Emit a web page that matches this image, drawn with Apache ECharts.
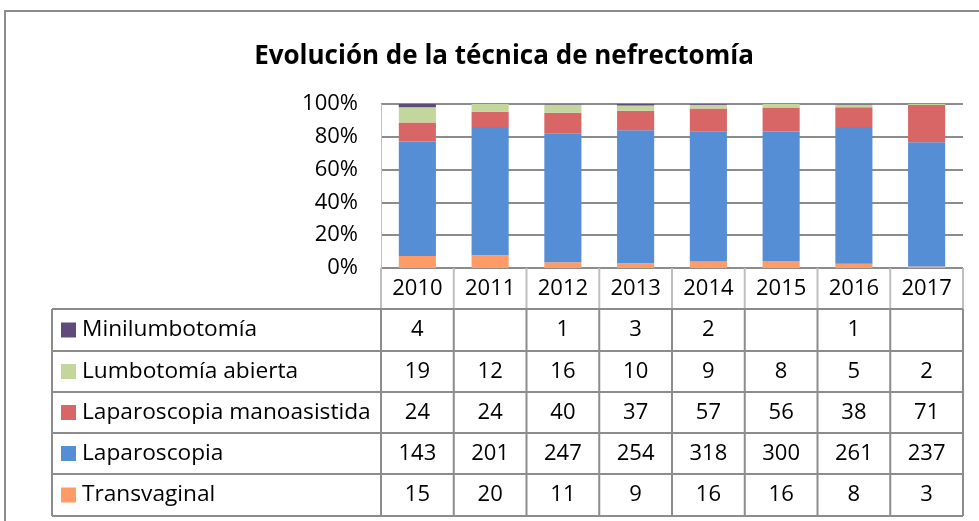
<!DOCTYPE html>
<html>
<head>
<meta charset="utf-8">
<script src="https://cdn.jsdelivr.net/npm/echarts@6/dist/echarts.min.js"></script>
<style>
html, body { margin: 0; padding: 0; background: #fff; }
#chart { width: 979px; height: 521px; }
</style>
</head>
<body>
<div id="chart"></div>
<script>
var years = ['2010', '2011', '2012', '2013', '2014', '2015', '2016', '2017'];
var yTicks = ['0%', '20%', '40%', '60%', '80%', '100%'];

// conteos por técnica (de abajo hacia arriba en la pila)
var transvaginal = [15, 20, 11, 9, 16, 16, 8, 3];
var laparoscopia = [143, 201, 247, 254, 318, 300, 261, 237];
var lapManoasistida = [24, 24, 40, 37, 57, 56, 38, 71];
var lumbotomiaAbierta = [19, 12, 16, 10, 9, 8, 5, 2];
var minilumbotomia = [4, null, 1, 3, 2, null, 1, null];

var seriesDefs = [
    { name: 'Transvaginal', data: transvaginal, color: '#FF9B66' },
    { name: 'Laparoscopia', data: laparoscopia, color: '#558ED5' },
    { name: 'Laparoscopia manoasistida', data: lapManoasistida, color: '#D96666' },
    { name: 'Lumbotomía abierta', data: lumbotomiaAbierta, color: '#C3D69B' },
    { name: 'Minilumbotomía', data: minilumbotomia, color: '#604A7B' }
];

var totals = years.map(function (y, i) {
    var t = 0;
    seriesDefs.forEach(function (s) { t += s.data[i] || 0; });
    return t;
});

var FONT = 'Open Sans';
var FS = 22;
var gridLeft = 381, gridRight = 979 - 963, gridTop = 104, gridBottom = 521 - 268;

var chart = echarts.init(document.getElementById('chart'));

chart.setOption({
    animation: false,
    textStyle: { fontFamily: FONT },
    title: {
        text: 'Evolución de la técnica de nefrectomía',
        left: 499,
        textAlign: 'center',
        top: 39,
        textStyle: { fontSize: 26, fontWeight: 'bold', color: '#000', fontFamily: FONT }
    },
    grid: { left: gridLeft, right: gridRight, top: gridTop, bottom: gridBottom },
    xAxis: {
        type: 'category',
        data: years,
        axisLine: { show: false },
        axisTick: { show: false },
        axisLabel: { fontSize: FS, color: '#000', margin: 10, fontFamily: FONT }
    },
    yAxis: {
        type: 'value',
        min: 0, max: 100, interval: 20,
        axisLine: { show: true, lineStyle: { color: '#BFBFBF', width: 1 } },
        axisTick: { show: false },
        axisLabel: {
            fontSize: FS, color: '#000', margin: 23, fontFamily: FONT,
            formatter: function (v) { return yTicks[v / 20]; }
        },
        splitLine: { lineStyle: { color: '#8C8C8C', width: 2 } }
    },
    series: seriesDefs.map(function (s) {
        return {
            name: s.name,
            type: 'bar',
            stack: 'total',
            barWidth: '51%',
            itemStyle: { color: s.color },
            data: s.data.map(function (v, i) { return v == null ? 0 : v / totals[i] * 100; })
        };
    })
});

// tabla de datos bajo el gráfico
var g = [];
var lineGray = '#8C8C8C';
var lightGray = '#BFBFBF';
var colEdges = [];
for (var i = 0; i <= years.length; i++) {
    colEdges.push(gridLeft + (963 - gridLeft) * i / years.length);
}
var rowEdges = [309, 351, 392, 433, 474, 516];
var tableLeft = 52;

// marco exterior
g.push({ type: 'rect', shape: { x: 5, y: 11, width: 990, height: 530 }, style: { fill: null, stroke: lineGray, lineWidth: 2 } });

// fila de años: líneas verticales claras
colEdges.forEach(function (x) {
    g.push({ type: 'line', shape: { x1: x, y1: 268, x2: x, y2: 309 }, style: { stroke: lightGray, lineWidth: 2 } });
});
// líneas horizontales
rowEdges.forEach(function (y) {
    g.push({ type: 'line', shape: { x1: tableLeft, y1: y, x2: 963, y2: y }, style: { stroke: lineGray, lineWidth: 2 } });
});
// líneas verticales del cuerpo
[tableLeft].concat(colEdges).forEach(function (x) {
    g.push({ type: 'line', shape: { x1: x, y1: 309, x2: x, y2: 516 }, style: { stroke: lineGray, lineWidth: 2 } });
});

// filas: de arriba hacia abajo
var rows = seriesDefs.slice().reverse();
rows.forEach(function (s, r) {
    var yc = (rowEdges[r] + rowEdges[r + 1]) / 2;
    g.push({ type: 'rect', shape: { x: 61, y: yc - 7.5, width: 15, height: 15 }, style: { fill: s.color } });
    g.push({ type: 'text', x: 82, y: yc, style: { text: s.name, fontSize: 22.7, fontFamily: FONT, fill: '#000', verticalAlign: 'middle' } });
    s.data.forEach(function (v, i) {
        if (v == null) return;
        var xc = chart.convertToPixel({ xAxisIndex: 0 }, i);
        g.push({ type: 'text', x: xc, y: yc, style: { text: String(v), fontSize: FS, fontFamily: FONT, fill: '#000', align: 'center', verticalAlign: 'middle' } });
    });
});

chart.setOption({ graphic: g });
</script>
</body>
</html>
